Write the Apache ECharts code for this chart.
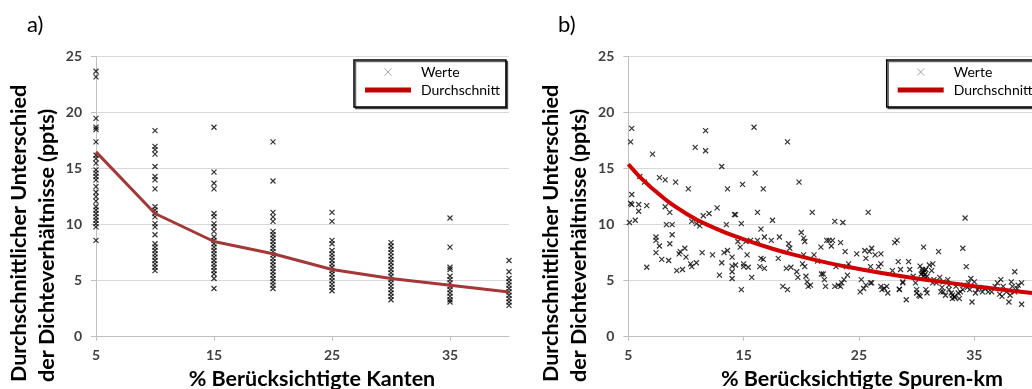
<!DOCTYPE html>
<html>
<head>
<meta charset="utf-8">
<script src="https://cdn.jsdelivr.net/npm/echarts@6/dist/echarts.min.js"></script>
<style>
html,body{margin:0;padding:0;background:#fff;}
#chart{width:1032px;height:389px;}
</style>
</head>
<body>
<div id="chart"></div>
<script>
// ---------- data ----------
const panelLabels = ['a)', 'b)'];
const yTitleLines = ['Durchschnittlicher Unterschied', 'der Dichteverhältnisse (ppts)'];
const xTitles = ['% Berücksichtigte Kanten', '% Berücksichtigte Spuren-km'];
const seriesNames = ['Werte', 'Durchschnitt'];

// Panel a: values per "% Berücksichtigte Kanten"
const leftX = [5, 10, 15, 20, 25, 30, 35, 40];
const leftValues5  = [23.7,23.2,19.5,18.7,18.5,17.4,16.2,15.9,15.5,14.9,14.6,14.3,14.0,13.4,12.9,12.5,12.1,11.6,11.3,11.0,10.7,10.4,10.1,9.8,8.6];
const leftValues10 = [18.4,17.0,16.7,16.3,15.2,14.3,14.0,13.2,11.6,11.3,11.0,10.7,10.1,9.8,9.1,8.3,8.0,7.7,7.4,7.1,6.8,6.5,6.2,5.9];
const leftValues15 = [18.7,14.7,13.7,13.2,11.0,10.7,10.1,9.8,9.4,8.9,8.6,8.3,8.0,7.7,7.4,7.1,6.8,6.5,6.2,5.9,5.6,5.2,4.3];
const leftValues20 = [17.4,13.9,11.1,10.7,10.3,9.4,9.1,8.8,8.5,8.2,7.9,7.6,7.3,7.0,6.7,6.4,6.1,5.8,5.5,5.2,4.9,4.6,4.3];
const leftValues25 = [11.1,10.3,8.6,8.3,7.7,7.4,7.1,6.8,6.5,6.2,5.9,5.6,5.3,5.0,4.7,4.4,4.1];
const leftValues30 = [8.4,8.1,7.8,7.5,7.2,6.9,6.6,6.3,6.0,5.7,5.4,5.1,4.8,4.5,4.2,3.9,3.6,3.3];
const leftValues35 = [10.6,8.0,6.2,6.0,5.4,5.1,4.8,4.5,4.2,3.9,3.6,3.3,3.1];
const leftValues40 = [6.8,5.8,5.2,4.9,4.6,4.3,4.0,3.7,3.4,3.1,2.8];
const leftMean = [16.5, 11.0, 8.5, 7.4, 6.0, 5.2, 4.6, 4.0];

// Panel b: [% Spuren-km, Unterschied]
const rightPoints = [
 [4.9,14.2],[5.3,18.6],[5.2,17.4],[5.3,12.7],[5.2,11.9],[5.3,11.8],[5.1,10.2],[5.6,10.4],[5.9,11.8],[5.9,11.2],
 [6.0,14.3],[6.4,13.8],[6.6,11.7],[6.6,6.2],[7.1,16.3],[7.4,8.9],[7.4,8.6],[7.4,7.5],[7.7,8.1],[7.9,6.9],
 [7.7,14.2],[8.2,14.0],[8.2,11.6],[8.3,10.0],[8.6,11.1],[8.6,8.3],[8.5,6.8],[8.8,10.0],[8.8,9.1],[9.1,13.8],
 [9.2,5.9],[9.4,7.4],[9.5,7.6],[9.7,6.0],[9.9,7.9],[10.0,7.1],[10.2,13.2],[10.4,6.5],[10.5,6.25],[10.5,10.3],
 [10.8,16.9],[10.9,10.1],[10.9,6.6],[11.2,9.9],[11.4,7.5],[11.5,10.8],[11.7,18.4],[11.7,16.6],[12.0,11.0],[12.3,7.3],
 [12.7,11.5],[12.9,5.5],[13.1,15.2],[13.1,6.6],[13.3,7.5],[13.6,13.2],[13.5,10.0],[13.6,7.7],[14.0,7.1],[14.0,6.3],
 [14.0,5.8],[14.0,5.2],[14.2,10.9],[14.3,10.9],[14.3,6.4],[14.5,8.5],[14.7,8.0],[14.8,10.1],[14.9,13.6],[14.8,4.2],
 [15.0,6.5],[15.0,6.25],[15.3,7.3],[15.4,6.2],[15.2,8.5],[15.6,8.6],[15.7,5.3],[15.9,18.7],[16.0,14.6],[16.2,11.1],
 [16.2,8.6],[16.5,9.6],[16.5,7.0],[16.7,6.9],[16.7,13.2],[16.8,6.1],[16.8,8.9],[16.4,6.25],[17.4,8.6],[17.5,10.4],
 [18.0,7.0],[18.1,8.9],[18.4,4.5],[18.8,17.4],[18.8,4.2],[18.7,6.1],[18.9,8.3],[19.0,7.9],[19.1,6.2],[19.6,5.8],
 [19.7,5.3],[19.8,13.8],[20.0,9.3],[20.2,8.8],[20.3,8.5],[20.2,7.3],[20.1,6.5],[20.3,6.25],[20.4,5.4],[20.5,4.9],
 [20.6,4.5],[20.8,4.6],[20.95,11.1],[21.1,7.3],[21.4,6.75],[21.7,8.0],[21.75,5.6],[21.9,5.6],[22.0,5.1],[22.1,4.5],
 [22.2,8.6],[22.4,8.6],[22.6,8.1],[22.7,8.6],[22.9,10.3],[22.9,4.5],[23.0,6.25],[23.2,4.6],[23.4,4.5],[23.4,8.4],
 [23.5,4.8],[23.6,10.2],[23.7,5.1],[23.8,7.6],[23.9,6.25],[24.0,5.5],[24.1,6.5],[24.8,7.4],[25.1,4.0],[25.2,5.1],
 [25.5,7.7],[25.6,7.0],[25.4,4.3],[25.6,4.6],[25.8,11.1],[25.9,7.6],[26.0,4.8],[26.0,6.25],[26.1,4.8],[26.1,7.9],
 [26.4,7.3],[26.7,6.25],[26.9,7.4],[26.9,6.5],[26.9,4.5],[27.0,4.2],[27.2,4.3],[27.4,4.5],[27.5,3.9],[27.9,5.9],
 [28.1,8.4],[28.3,8.6],[28.4,6.7],[28.5,4.2],[28.5,4.25],[28.6,6.0],[28.8,4.8],[28.8,4.9],[29.1,3.3],[29.3,6.7],
 [29.4,6.0],[29.7,5.4],[29.9,4.8],[30.0,4.2],[30.0,3.9],[30.2,3.7],[30.3,3.6],[30.3,6.3],[30.5,6.0],[30.6,8.0],
 [30.6,5.7],[30.7,5.5],[30.8,4.2],[30.9,3.9],[30.8,6.0],[30.9,5.4],[31.1,6.4],[31.3,5.9],[31.5,5.1],[31.7,4.8],
 [31.9,7.6],[32.0,5.3],[32.1,4.0],[32.3,4.0],[32.5,3.7],[32.7,5.1],[32.8,4.6],[32.8,4.2],[33.0,3.9],[33.1,3.4],
 [33.3,3.6],[33.4,4.5],[33.6,3.9],[33.7,3.4],[33.8,4.0],[34.0,7.9],[34.0,4.2],[34.2,10.6],[34.3,6.25],[34.5,4.8],
 [34.6,4.2],[34.7,5.2],[34.8,3.1],[35.0,4.9],[35.1,3.9],[35.4,4.4],[35.7,4.0],[36.2,4.0],[36.5,4.0],[36.8,4.5],
 [37.3,5.1],[37.4,3.6],[37.5,4.5],[37.8,4.0],[38.0,3.1],[38.1,3.7],[38.2,4.9],[38.3,4.5],[38.5,4.0],[38.5,5.8],
 [38.8,4.6],[39.1,2.9],[39.1,4.8],[30.4,5.6],[30.5,5.8],[30.6,5.4],[30.7,5.9],[31.4,6.5],[31.4,4.8],[32.2,4.4],
 [32.3,4.9],[33.1,3.7],[33.3,3.5],[34.1,4.6],[34.4,4.4],[35.3,4.2],[35.9,4.3],[37.0,4.8],[37.2,3.8],[38.7,4.3]
];
const rightMeanX = [5, 7, 10, 12.5, 15, 17.5, 20, 22.5, 25, 27.5, 30, 32.5, 35, 37.5, 40];
const rightMean  = [15.4, 13.3, 11.0, 9.7, 8.7, 7.85, 7.15, 6.55, 6.05, 5.6, 5.2, 4.85, 4.5, 4.2, 3.9];

// ---------- chart ----------
const FONT = 'Lato, "Open Sans", sans-serif';
const leftColumns = [leftValues5, leftValues10, leftValues15, leftValues20, leftValues25, leftValues30, leftValues35, leftValues40];
const leftScatter = [];
leftColumns.forEach((col, i) => col.forEach(v => leftScatter.push([leftX[i], v])));

const CROSS = 'path://M0,0L10,10M10,0L0,10';
const BAR = 'path://M0,0H46V5H0Z';
const gridTop = 56.7, gridH = 280, gridW = 413;

function xAxisFor(idx) {
  return {
    type: 'value', gridIndex: idx, min: 5, max: 40, interval: 10,
    axisLine: { show: true, lineStyle: { color: '#bfbfbf', width: 1 } },
    axisTick: { show: true, length: 4, lineStyle: { color: '#bfbfbf' } },
    splitLine: { show: false },
    axisLabel: {
      margin: 12, fontFamily: FONT, fontWeight: 'bold', fontSize: 14, color: '#404040',
      showMaxLabel: false,
      formatter: v => (v === 40 ? '' : String(v))
    }
  };
}
function yAxisFor(idx) {
  return {
    type: 'value', gridIndex: idx, min: 0, max: 25, interval: 5,
    axisLine: { show: true, lineStyle: { color: '#bfbfbf', width: 1 } },
    axisTick: { show: true, length: 5, lineStyle: { color: '#bfbfbf' } },
    splitLine: { show: true, lineStyle: { color: '#d9d9d9', width: 1 } },
    axisLabel: { margin: 14, fontFamily: FONT, fontWeight: 'bold', fontSize: 14, color: '#404040' }
  };
}
function legendFor(left) {
  return {
    left: left, top: 60, orient: 'vertical',
    backgroundColor: '#fff', borderColor: '#000', borderWidth: 1.5,
    shadowColor: 'rgba(0,0,0,0.6)', shadowOffsetX: 1.5, shadowOffsetY: 1.5, shadowBlur: 0,
    padding: [4, 6, 9, 11], itemGap: 2, itemWidth: 46, itemHeight: 7,
    selectedMode: false,
    textStyle: { fontFamily: FONT, fontSize: 14, color: '#000', lineHeight: 16, padding: [0, 0, 0, 5] },
    data: [
      { name: seriesNames[0], icon: CROSS, itemStyle: { color: 'none', borderColor: '#8c8c8c', borderWidth: 1 } },
      { name: seriesNames[1], icon: BAR, itemStyle: { color: '#c00000', borderWidth: 0 } }
    ]
  };
}

const graphics = [];
const panelOffsets = [0, 532];
const TITLE_FONT = 'bold 21.5px ' + FONT;
panelOffsets.forEach((dx, i) => {
  graphics.push({ type: 'text', left: 27 + dx + (i ? -1 : 0), top: 14,
    style: { text: panelLabels[i], font: '22px ' + FONT, fill: '#000' } });
  const lineX = [19 + dx, 47 + dx];
  yTitleLines.forEach((t, k) => {
    graphics.push({ type: 'text', x: lineX[k], y: 382, rotation: Math.PI / 2,
      style: { text: t, font: TITLE_FONT, fill: '#000', align: 'left', verticalAlign: 'middle' } });
  });
});
graphics.push({ type: 'text', x: 312, y: 379,
  style: { text: xTitles[0], font: TITLE_FONT, fill: '#000', align: 'center', verticalAlign: 'middle' } });
graphics.push({ type: 'text', x: 862, y: 379,
  style: { text: xTitles[1], font: TITLE_FONT, fill: '#000', align: 'center', verticalAlign: 'middle' } });

const chart = echarts.init(document.getElementById('chart'), null, { renderer: 'canvas' });
chart.setOption({
  animation: false,
  backgroundColor: '#fff',
  grid: [
    { left: 96, top: gridTop, width: gridW, height: gridH },
    { left: 628.3, top: gridTop, width: gridW, height: gridH }
  ],
  xAxis: [xAxisFor(0), xAxisFor(1)],
  yAxis: [yAxisFor(0), yAxisFor(1)],
  legend: [legendFor(354), legendFor(886.7)],
  series: [
    { name: seriesNames[0], type: 'scatter', xAxisIndex: 0, yAxisIndex: 0, data: leftScatter,
      symbol: CROSS, symbolSize: 5,
      itemStyle: { color: 'none', borderColor: '#000', borderWidth: 1.2 }, z: 2 },
    { name: seriesNames[1], type: 'line', xAxisIndex: 0, yAxisIndex: 0,
      data: leftX.map((x, i) => [x, leftMean[i]]), symbol: 'none', smooth: false,
      lineStyle: { color: '#a33838', width: 3 }, itemStyle: { color: '#a33838' }, z: 3 },
    { name: seriesNames[0], type: 'scatter', xAxisIndex: 1, yAxisIndex: 1, data: rightPoints,
      symbol: CROSS, symbolSize: 5,
      itemStyle: { color: 'none', borderColor: '#000', borderWidth: 1.2 }, z: 2 },
    { name: seriesNames[1], type: 'line', xAxisIndex: 1, yAxisIndex: 1,
      data: rightMeanX.map((x, i) => [x, rightMean[i]]), symbol: 'none', smooth: true,
      lineStyle: { color: '#d00000', width: 4 }, itemStyle: { color: '#d00000' }, z: 3 }
  ],
  graphic: graphics
});
</script>
</body>
</html>
